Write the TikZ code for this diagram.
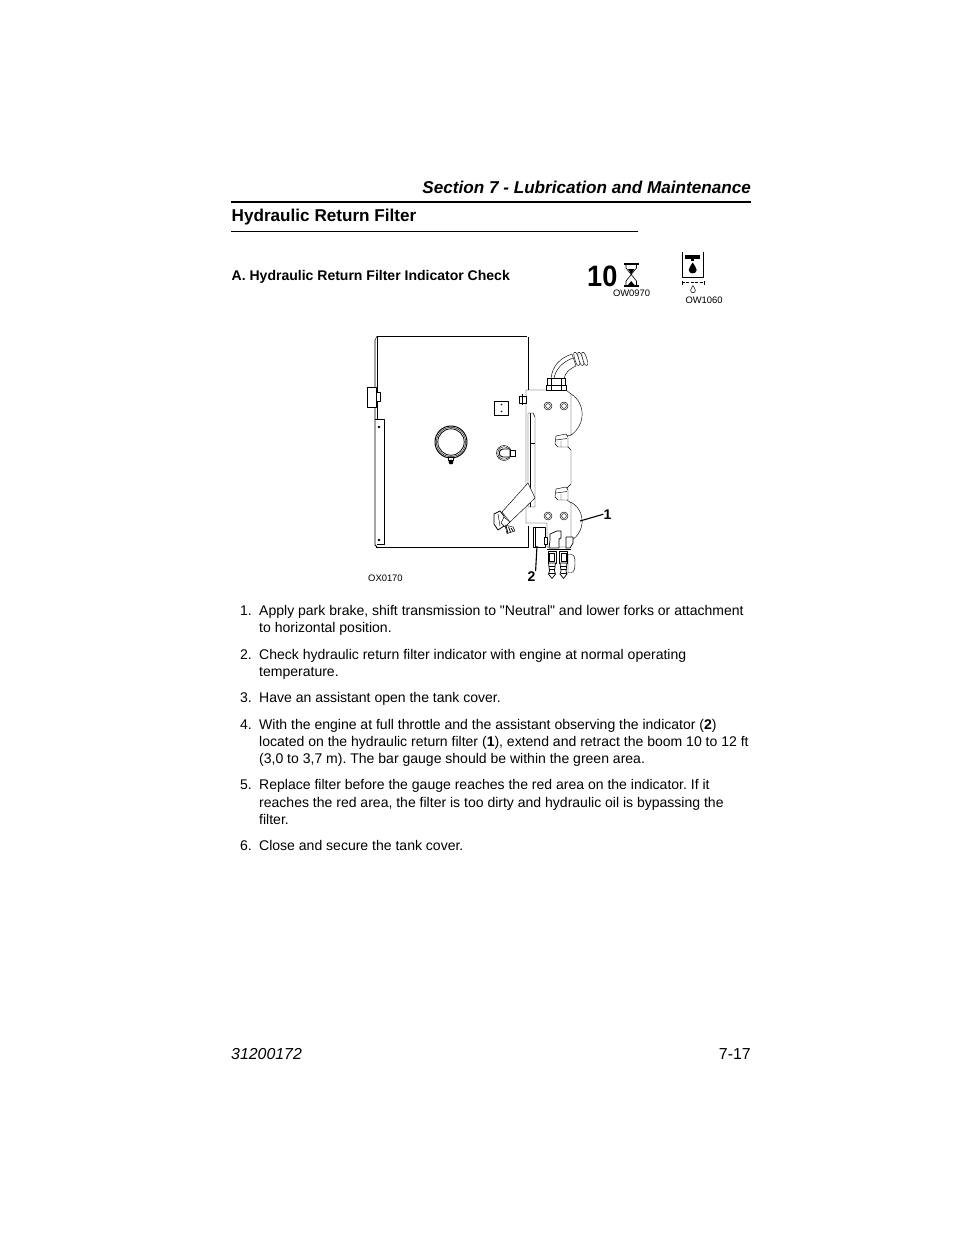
\documentclass[tikz,border=0pt]{standalone}
\usepackage{fontspec}
\setmainfont{Liberation Sans}[Ligatures=TeXOff]
\frenchspacing
\usetikzlibrary{positioning}
\tikzstyle{page}=[
  x=1pt,y=-1pt,line join=round
]
\tikzstyle{bodyline}=[
  anchor=base west,inner sep=0pt,font=\fontsize{14.02}{17}\selectfont
]
\tikzstyle{callout}=[
  anchor=base,inner sep=0pt,font=\fontsize{14}{17}\selectfont\bfseries
]
\tikzstyle{partno}=[
  anchor=base west,inner sep=0pt,font=\fontsize{9.4}{11}\selectfont
]
\tikzstyle{part}=[
  draw,line width=0.45pt,fill=white
]
\tikzstyle{wire}=[
  draw,line width=0.45pt
]
\tikzstyle{heavy}=[
  draw,line width=1pt
]
\begin{document}
\begin{tikzpicture}[page]
    \useasboundingbox (0,0) rectangle (954,1235);

    %Headings
    \node[anchor=base east,inner sep=0pt,font=\fontsize{17.13}{20}\selectfont\bfseries\itshape] (section) at (751,193) {Section 7 - Lubrication and Maintenance};
    \node[anchor=base west,inner sep=0pt,font=\fontsize{17.13}{20}\selectfont\bfseries] (title) at (231.5,221) {Hydraulic Return Filter};
    \node[anchor=base west,inner sep=0pt,font=\fontsize{14.02}{16}\selectfont\bfseries] (subtitle) at (231.5,280) {A. Hydraulic Return Filter Indicator Check};
    \draw[line width=2pt] (231,201.5) -- (751,201.5);
    \draw[line width=0.8pt] (231,231) -- (638,231);

    %Interval icon
    \node[anchor=base west,inner sep=0pt,xscale=0.92,font=\fontsize{29.5}{30}\selectfont\bfseries] (interval) at (587,286) {10};
    \fill (624,263) rectangle (638.5,265);
    \fill (624,285) rectangle (638.5,287);
    \draw[line width=0.6pt] (626,265) -- (626,268) -- (636.5,281) -- (636.5,285) (636.5,265) -- (636.5,268) -- (626,281) -- (626,285);
    \fill (628,269) -- (634.5,269) -- (631.2,274) -- cycle;
    \fill (628,285) -- (634.5,285) -- (631.2,281) -- cycle;
    \node[partno] (intervalno) at (612.8,296) {OW0970};

    %Oil icon
    \draw[line width=0.9pt] (682.5,252) -- (682.5,277) -- (703,277) -- (703,252);
    \fill (685,255) rectangle (700,259);
    \fill (691.2,255) rectangle (694.2,261);
    \fill (692.7,262.5) .. controls (691.5,265) and (688.7,267.5) .. (688.7,270) .. controls (688.7,274.5) and (696.7,274.5) .. (696.7,270) .. controls (696.7,267.5) and (693.9,265) .. (692.7,262.5) -- cycle;
    \draw[line width=1.2pt,dash pattern=on 3pt off 1.4pt] (682,282.5) -- (704,282.5);
    \draw[line width=0.6pt] (682,280.5) -- (682,284.5) (704,280.5) -- (704,284.5);
    \draw[line width=0.5pt] (693,285.5) .. controls (692.3,287.5) and (690.6,288.5) .. (690.6,290.3) .. controls (690.6,293.5) and (695.4,293.5) .. (695.4,290.3) .. controls (695.4,288.5) and (693.7,287.5) .. (693,285.5) -- cycle;
    \node[partno] (oilno) at (685.3,303) {OW1060};

    %Tank
    \path[wire,line width=0.7pt] (377,336) -- (527,336);
    \path[heavy] (377,337) -- (377,419);
    \path[wire] (375,340) -- (377,336);
    \path[heavy,line width=0.8pt] (375,340) -- (375,545) -- (377,547);
    \path[heavy] (528,337) -- (528,390);
    \path[heavy] (376,547.5) -- (528,547.5) -- (528,526);
    \path[part] (367,387) rectangle (376,407);
    \path[part] (376,392) rectangle (380,401);
    \path[wire] (375,419) -- (384.5,419) -- (384.5,544) -- (377,544);
    \fill (379,427) circle (1.3);
    \fill (379,540) circle (1.3);
    \path[part] (494,401) rectangle (508.5,415);
    \fill (501.5,404.5) circle (0.9);
    \fill (501.5,411.5) circle (0.9);

    %Gauge and fitting
    \path[wire,line width=1pt] (451,442) circle (16);
    \path[wire] (451,442) circle (14.6);
    \path[wire,line width=0.8pt] (451,442) circle (13.2);
    \path[part] (448.5,457) rectangle (453.5,460);
    \fill (451,462) circle (2.4);
    \path[wire] (504,453) circle (7.5);
    \path[wire] (504,453) circle (6.2);
    \path[part,line width=0.9pt] (503,449) -- (510,449) -- (510,457) -- (503,457) .. controls (498,457) and (498,449) .. (503,449) -- cycle;
    \path[part] (510,450) rectangle (515,456);

    %Plate
    \path[part] (526,390) -- (566,390) -- (571,394) -- (571,435) -- (566,436) -- (567,446) -- (571,450) -- (571,484) -- (567,488) -- (567,500) -- (571,503) -- (571,542) -- (571,547) -- (547,547) -- (547,523) -- (526,523) -- cycle;
    \path[wire] (570.5,393.5) .. controls (586,403) and (586,425) .. (570.5,435.5);
    \path[wire] (570.5,502) .. controls (586,510) and (586,532) .. (570.5,541);
    \path[part] (556,436) -- (566,434) -- (568,437) -- (568,447) -- (558,447) -- (555,444) -- cycle;
    \path[wire] (556,440) -- (567,438.5) (561,441) -- (561,447);
    \path[part] (556,489) -- (566,487) -- (568,490) -- (568,500) -- (558,500) -- (555,497) -- cycle;
    \path[wire] (556,493) -- (567,491.5) (561,494) -- (561,500);
    \path[part] (528,413) -- (533,413) -- (535,417) -- (535,507) -- (528,507) -- cycle;
    \path[wire] (530.5,413) -- (530.5,507);
    \path[heavy] (530.5,443) -- (534.5,443);
    \path[part] (519.5,396) rectangle (526,403);
    \path[wire] (522,394) -- (522,405);

    %Bolts
    \foreach \boltx/\bolty in {548/406,564/406,548/516,564/516}{
      \path[wire] (\boltx,\bolty) circle (4);
      \path[wire] (\boltx,\bolty) circle (2.4);
    }

    %Hose
    \path[part] (551,379) .. controls (552,366) and (560,358) .. (572,354) -- (576,366) .. controls (569,369) and (565,373) .. (564,379) -- cycle;
    \path[wire] (554,379) .. controls (555,370) and (562,362) .. (573,358);
    \foreach \barbx in {574,578,582}{
      \path[part] (\barbx,352.5) .. controls (\barbx+3,350) and (\barbx+7,363) .. (\barbx+5,365.5) .. controls (\barbx+3,368) and (\barbx-1,356) .. (\barbx,352.5) -- cycle;
    }
    \path[part] (547,378) rectangle (565.5,385);
    \path[part] (546,385) rectangle (566.5,390);
    \path[wire] (551,378) -- (551,390) (561,378) -- (561,390);

    %Arm
    \path[part] (528,483) -- (535,498) -- (510,522) -- (502,512) -- cycle;
    \path[part,line width=0.8pt] (494,514) -- (500,511) -- (504,516) -- (504,526) -- (498,530) -- (494,524) -- cycle;
    \path[wire] (498,514) -- (500,526);
    \path[part] (504,517) -- (510,522) -- (505,527) -- (501,523) -- cycle;
    \path[part] (505,525) -- (513,527) -- (515,531) -- (507,533.5) -- cycle;
    \foreach \threadi in {0,2.5,5}{
      \path[wire,line width=0.8pt] (506+\threadi,525.5+0.5*\threadi) -- (508+\threadi,533.5-0.5*\threadi);
    }

    %Indicator and bottom fittings
    \path[part] (533,527) rectangle (545,547);
    \path[wire,line width=1pt] (535,527) -- (535,547);
    \path[part,line width=0.8pt] (544,537) rectangle (547.5,544);
    \path[part,line width=0.7pt] (550,540) -- (550,534) -- (557,531) -- (561,531) -- (561,538) -- (559,539) -- (559,548) -- (549,548) -- cycle;
    \path[part,line width=0.7pt] (566,537) -- (573,537) -- (573,543) -- (570,548) -- (566,548) -- cycle;
    \path[heavy,line width=1.4pt] (547,549.5) -- (571,549.5);
    \foreach \tipx in {552,563.5}{
      \path[part] (\tipx-4,551) rectangle (\tipx+4,563);
      \path[wire,line width=1pt] (\tipx-2.5,553.5) rectangle (\tipx+2.5,561.5);
      \path[part,line width=0.7pt] (\tipx-3.5,563) -- (\tipx+3.5,563) -- (\tipx+2.5,571) -- (\tipx+3.5,574) -- (\tipx,578.5) -- (\tipx-3.5,574) -- (\tipx-2.5,571) -- cycle;
      \path[wire] (\tipx-3,566) -- (\tipx+3,566) (\tipx-3,569) -- (\tipx+3,569) (\tipx-3,573) -- (\tipx+3,573);
    }
    \path[part] (568,554.5) -- (571,554.5) .. controls (574.5,554.5) and (575,558) .. (575,563) .. controls (575,569) and (574,572.5) .. (571,572.5) -- (568,572.5) -- cycle;

    %Callouts
    \node[callout] (filternum) at (607.5,519) {1};
    \node[callout] (indicatornum) at (531.5,581) {2};
    \coordinate (filterpoint) at (580,521);
    \coordinate (indicatorpoint) at (537,546);
    \draw[line width=1.1pt] (filterpoint) -- (filternum.west);
    \draw[line width=1.1pt] (indicatorpoint) -- (indicatornum.north east);
    \node[partno] (figureno) at (368,581) {OX0170};

    %Steps
    \node[bodyline] (numa) at (240,615) {1.};
    \node[bodyline] (stepa) at (259,615) {Apply park brake, shift transmission to "Neutral" and lower forks or attachment};
    \node[bodyline] (stepb) at (259,632) {to horizontal position.};
    \node[bodyline] (numb) at (240,659) {2.};
    \node[bodyline] (stepc) at (259,659) {Check hydraulic return filter indicator with engine at normal operating};
    \node[bodyline] (stepd) at (259,676) {temperature.};
    \node[bodyline] (numc) at (240,702) {3.};
    \node[bodyline] (stepe) at (259,702) {Have an assistant open the tank cover.};
    \node[bodyline] (numd) at (240,729) {4.};
    \node[bodyline] (stepf) at (259,729) {With the engine at full throttle and the assistant observing the indicator (\textbf{2})};
    \node[bodyline] (stepg) at (259,746) {located on the hydraulic return filter (\textbf{1}), extend and retract the boom 10 to 12 ft};
    \node[bodyline] (steph) at (259,763) {(3,0 to 3,7 m). The bar gauge should be within the green area.};
    \node[bodyline] (nume) at (240,789) {5.};
    \node[bodyline] (stepi) at (259,789) {Replace filter before the gauge reaches the red area on the indicator. If it};
    \node[bodyline] (stepj) at (259,807) {reaches the red area, the filter is too dirty and hydraulic oil is bypassing the};
    \node[bodyline] (stepk) at (259,824) {filter.};
    \node[bodyline] (numf) at (240,850) {6.};
    \node[bodyline] (stepl) at (259,850) {Close and secure the tank cover.};

    %Footer
    \node[anchor=base west,inner sep=0pt,font=\fontsize{15.9}{18}\selectfont\itshape] (partnumber) at (231,1059) {31200172};
    \node[anchor=base east,inner sep=0pt,font=\fontsize{15.9}{18}\selectfont] (pagenumber) at (751,1059) {7-17};
\end{tikzpicture}
\end{document}
